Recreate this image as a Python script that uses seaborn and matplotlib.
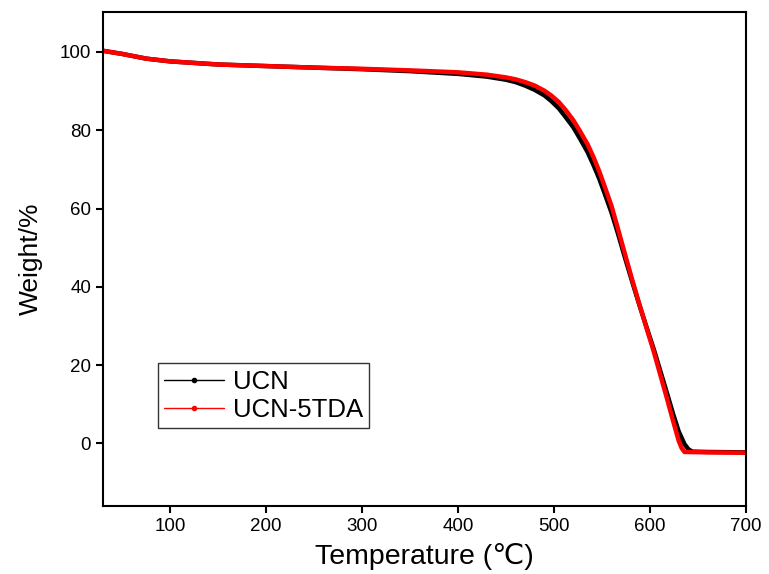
import numpy as np
import pandas as pd
import matplotlib
matplotlib.use('Agg')
import matplotlib.pyplot as plt
import seaborn as sns
from matplotlib.lines import Line2D

# TGA curves
temp_ucn = [30, 50, 75, 100, 150, 200, 250, 300, 350, 400, 430, 450, 460, 470, 480, 490, 497,
            505, 512, 520, 527, 535, 541, 547, 553, 560, 567, 574, 581, 588, 596, 604, 611,
            618, 624, 630, 636, 640, 644, 660, 700]
weight_ucn = [100.3, 99.5, 98.3, 97.6, 96.8, 96.4, 96.0, 95.6, 95.1, 94.4, 93.7, 92.9, 92.3,
              91.4, 90.3, 88.9, 87.5, 85.6, 83.4, 80.8, 77.9, 74.4, 71.2, 67.7, 63.7, 58.9,
              53.3, 47.4, 41.7, 36.1, 30.0, 24.0, 18.3, 12.6, 7.6, 3.0, -0.2, -1.5, -2.1,
              -2.2, -2.3]

temp_tda = [30, 50, 75, 100, 150, 200, 250, 300, 350, 400, 430, 450, 460, 470, 480, 490, 497,
            505, 512, 520, 527, 535, 541, 547, 553, 560, 567, 574, 581, 588, 596, 604, 611,
            618, 624, 630, 633, 636, 660, 700]
weight_tda = [100.3, 99.5, 98.3, 97.6, 96.8, 96.4, 96.0, 95.7, 95.3, 94.8, 94.2, 93.5, 93.0,
              92.3, 91.4, 90.1, 88.9, 87.2, 85.2, 82.6, 79.8, 76.4, 73.2, 69.6, 65.5, 60.6,
              54.5, 48.3, 42.2, 36.3, 29.8, 23.4, 17.3, 11.2, 5.8, 0.6, -1.2, -2.2, -2.3, -2.4]

labels = ['UCN', 'UCN-5TDA']
colors = ['black', '#ff0000']

sns.set_style('white')
plt.rcParams['font.family'] = ['Liberation Sans', 'DejaVu Sans']
plt.rcParams['text.color'] = 'black'
plt.rcParams['axes.labelcolor'] = 'black'
plt.rcParams['xtick.color'] = 'black'
plt.rcParams['ytick.color'] = 'black'

fig = plt.figure(figsize=(7.69, 5.74), dpi=100)
ax = fig.add_axes([0.134, 0.1185, 0.836, 0.8605])

sns.lineplot(x=temp_ucn, y=weight_ucn, ax=ax, color=colors[0], linewidth=3.2, sort=False)
sns.lineplot(x=temp_tda, y=weight_tda, ax=ax, color=colors[1], linewidth=3.2, sort=False)

ax.set_xlim(30, 700)
ax.set_ylim(-16, 110.2)
ax.set_xticks([100, 200, 300, 400, 500, 600, 700])
ax.set_yticks([0, 20, 40, 60, 80, 100])
ax.tick_params(direction='out', length=5, width=1.5, labelsize=13.5, bottom=True, left=True)
for s in ax.spines.values():
    s.set_linewidth(1.5)
    s.set_color('black')

ax.set_xlabel('Temperature (℃)', fontsize=20.5, labelpad=6)
ax.set_ylabel('Weight/%', fontsize=19, labelpad=12)

handles = [Line2D([], [], color=c, lw=1, marker='o', markersize=3) for c in colors]
leg = ax.legend(handles, labels, loc='lower left', bbox_to_anchor=(0.0855, 0.158),
                borderaxespad=0, fontsize=18.5, frameon=True, fancybox=False,
                handlelength=2.3, borderpad=0.25, labelspacing=0.15, handletextpad=0.35)
leg.get_frame().set_edgecolor('black')
leg.get_frame().set_linewidth(1)

fig.savefig('out.png', dpi=100)
